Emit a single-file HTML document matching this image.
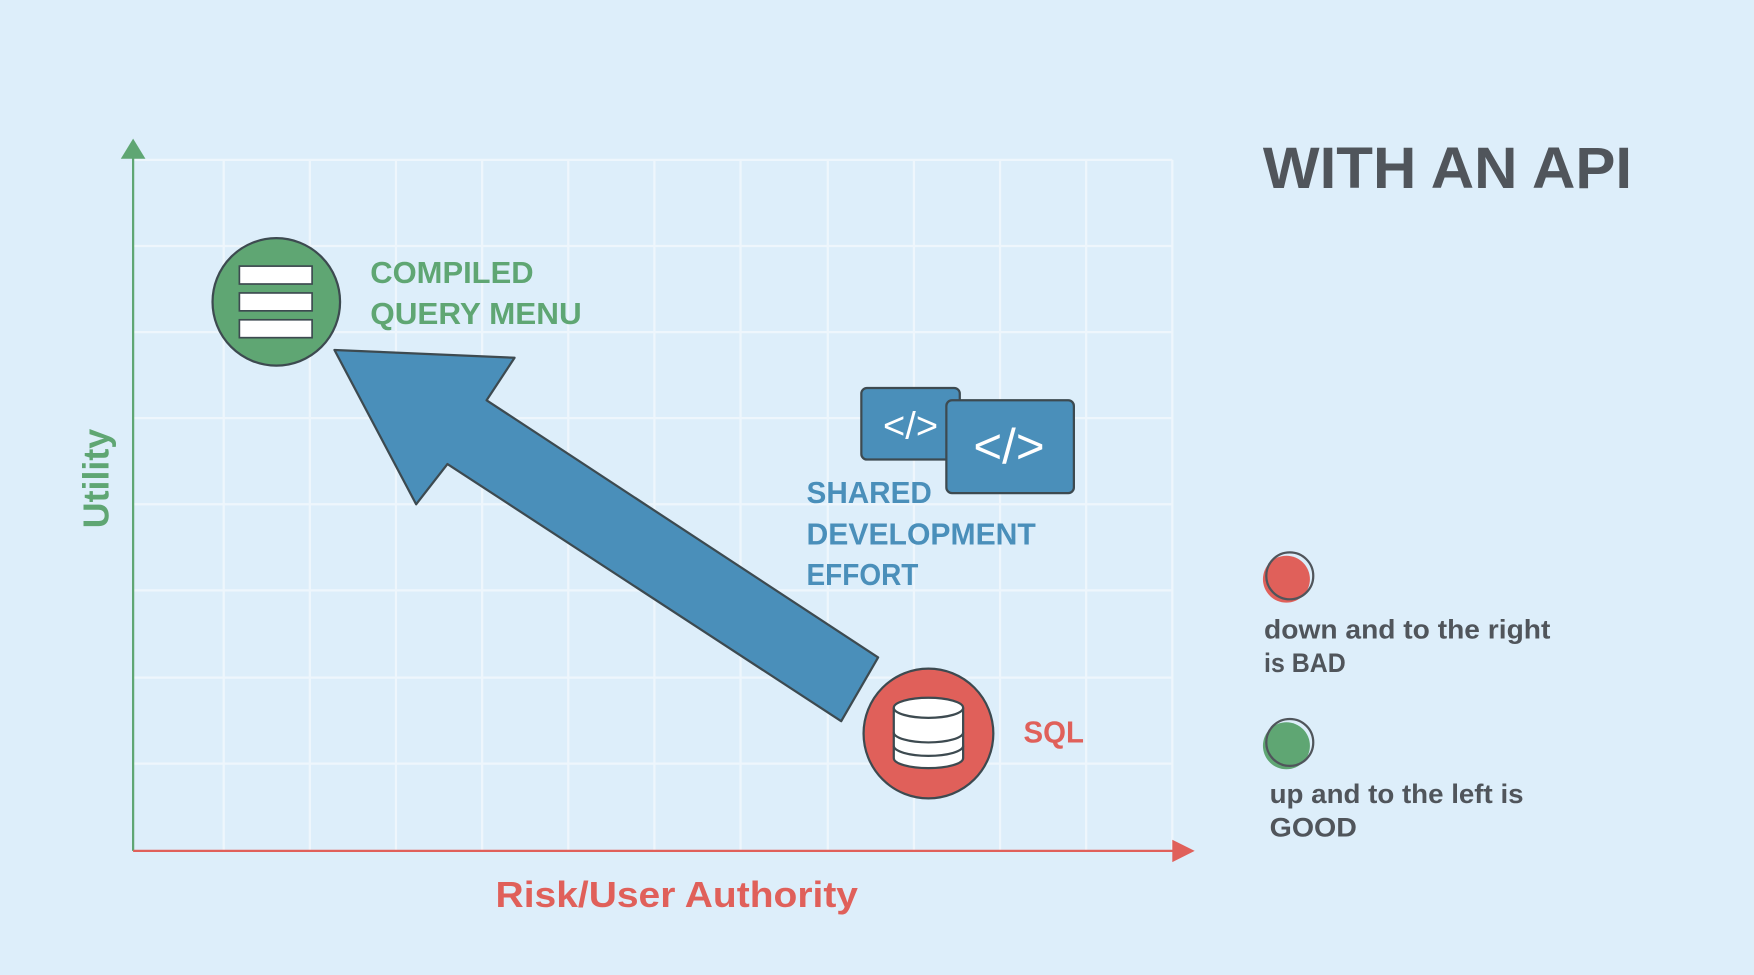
<!DOCTYPE html>
<html><head><meta charset="utf-8"><style>
html,body{margin:0;padding:0;background:#ddeefa;}
svg{display:block}
text{font-family:"Liberation Sans",sans-serif;font-weight:bold}
</style></head><body>
<svg width="1754" height="975" viewBox="0 0 1568 872" preserveAspectRatio="none">
<rect width="1568" height="872" fill="#ddeefa"/>
<g stroke="#eef6fc" stroke-width="2">
<line x1="200" y1="143" x2="200" y2="761"/><line x1="277" y1="143" x2="277" y2="761"/><line x1="354" y1="143" x2="354" y2="761"/><line x1="431" y1="143" x2="431" y2="761"/><line x1="508" y1="143" x2="508" y2="761"/><line x1="585" y1="143" x2="585" y2="761"/><line x1="662" y1="143" x2="662" y2="761"/><line x1="740" y1="143" x2="740" y2="761"/><line x1="817" y1="143" x2="817" y2="761"/><line x1="894" y1="143" x2="894" y2="761"/><line x1="971" y1="143" x2="971" y2="761"/><line x1="1048" y1="143" x2="1048" y2="761"/>
<line x1="119" y1="143" x2="1048" y2="143"/><line x1="119" y1="220" x2="1048" y2="220"/><line x1="119" y1="297" x2="1048" y2="297"/><line x1="119" y1="374" x2="1048" y2="374"/><line x1="119" y1="451" x2="1048" y2="451"/><line x1="119" y1="528" x2="1048" y2="528"/><line x1="119" y1="606" x2="1048" y2="606"/><line x1="119" y1="683" x2="1048" y2="683"/>
</g>
<line x1="119" y1="140" x2="119" y2="761" stroke="#5fa673" stroke-width="2"/>
<polygon points="119,124 108,142 130,142" fill="#5fa673"/>
<line x1="119" y1="761" x2="1050" y2="761" stroke="#e0605a" stroke-width="2"/>
<polygon points="1068,761 1048,751 1048,771" fill="#e0605a"/>

<circle cx="247" cy="270" r="57" fill="#5fa673" stroke="#3d4a50" stroke-width="2"/>
<g fill="#fff" stroke="#3d4a50" stroke-width="1.5">
<rect x="214" y="238" width="65" height="16"/><rect x="214" y="262" width="65" height="16"/><rect x="214" y="286" width="65" height="16"/>
</g>
<text x="331" y="253" font-size="27" fill="#5fa673" textLength="146" lengthAdjust="spacingAndGlyphs">COMPILED</text>
<text x="331" y="290" font-size="27" fill="#5fa673" textLength="189" lengthAdjust="spacingAndGlyphs">QUERY MENU</text>

<polygon points="299,313 460,320 435,358 785,588 752,645 400,415 372,451" fill="#4a8fba" stroke="#3d4a50" stroke-width="2" stroke-linejoin="round"/>

<rect x="770" y="347" width="88" height="64" rx="5" fill="#4a8fba" stroke="#3d4a50" stroke-width="2"/>
<text x="814" y="392" font-size="34" fill="#fff" text-anchor="middle" style="font-weight:normal">&lt;/&gt;</text>
<rect x="846" y="358" width="114" height="83" rx="5" fill="#4a8fba" stroke="#3d4a50" stroke-width="2"/>
<text x="902" y="414" font-size="44" fill="#fff" text-anchor="middle" style="font-weight:normal">&lt;/&gt;</text>

<text x="721" y="450" font-size="27" fill="#4a8fba" textLength="112" lengthAdjust="spacingAndGlyphs">SHARED</text>
<text x="721" y="487" font-size="27" fill="#4a8fba" textLength="205" lengthAdjust="spacingAndGlyphs">DEVELOPMENT</text>
<text x="721" y="523" font-size="27" fill="#4a8fba" textLength="100" lengthAdjust="spacingAndGlyphs">EFFORT</text>

<circle cx="830" cy="656" r="58" fill="#e0605a" stroke="#3d4a50" stroke-width="2"/>
<g fill="#fff" stroke="#3d4a50" stroke-width="2">
<path d="M799,633 v45 a31,9 0 0 0 62,0 v-45"/>
<path d="M799,655 a31,9 0 0 0 62,0" fill="none"/>
<path d="M799,667 a31,9 0 0 0 62,0" fill="none"/>
<ellipse cx="830" cy="633" rx="31" ry="9"/>
</g>
<text x="915" y="664" font-size="27" fill="#e0605a" textLength="54" lengthAdjust="spacingAndGlyphs">SQL</text>

<text transform="translate(97,428) rotate(-90)" font-size="32" fill="#5fa673" text-anchor="middle">Utility</text>
<text x="605" y="811" font-size="32" fill="#e0605a" text-anchor="middle" textLength="324" lengthAdjust="spacingAndGlyphs">Risk/User Authority</text>

<text x="1129" y="168" font-size="52" fill="#50555b" textLength="330" lengthAdjust="spacingAndGlyphs">WITH AN API</text>

<circle cx="1150" cy="518" r="21" fill="#e0605a"/>
<circle cx="1153" cy="515" r="21" fill="none" stroke="#50555b" stroke-width="2"/>
<text x="1130" y="571" font-size="24" fill="#50555b" textLength="256" lengthAdjust="spacingAndGlyphs">down and to the right</text>
<text x="1130" y="601" font-size="24" fill="#50555b" textLength="73" lengthAdjust="spacingAndGlyphs">is BAD</text>

<circle cx="1150" cy="667" r="21" fill="#5fa673"/>
<circle cx="1153" cy="664" r="21" fill="none" stroke="#50555b" stroke-width="2"/>
<text x="1135" y="718" font-size="24" fill="#50555b" textLength="227" lengthAdjust="spacingAndGlyphs">up and to the left is</text>
<text x="1135" y="748" font-size="24" fill="#50555b" textLength="78" lengthAdjust="spacingAndGlyphs">GOOD</text>
</svg>
</body></html>
